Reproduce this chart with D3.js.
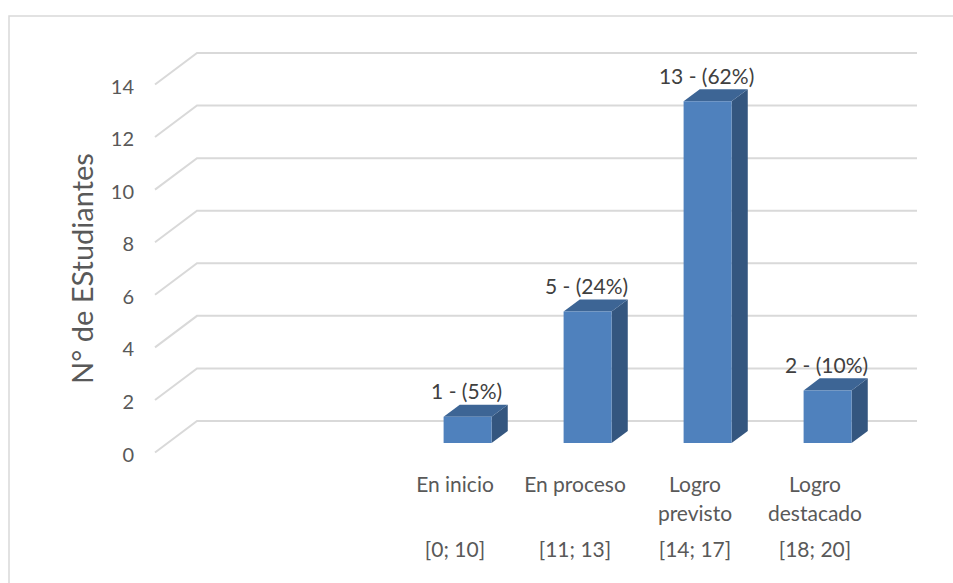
<!DOCTYPE html>
<html>
<head>
<meta charset="utf-8">
<script src="https://cdn.jsdelivr.net/npm/d3@7"></script>
<style>
  body { margin: 0; background: #fff; }
  svg { display: block; font-family: Lato, "Open Sans", sans-serif; }
</style>
</head>
<body>
<svg id="chart" width="953" height="583"></svg>
<script>
// data (first two category slots are empty in the original)
var categories = ["c0", "c1", "En inicio", "En proceso", "Logro previsto", "Logro destacado"];
var labelLines = [[], [], ["En inicio"], ["En proceso"], ["Logro", "previsto"], ["Logro", "destacado"]];
var ranges = ["", "", "[0; 10]", "[11; 13]", "[14; 17]", "[18; 20]"];
var values = [null, null, 1, 5, 13, 2];
var percents = [null, null, "5%", "24%", "62%", "10%"];
var yTicks = [0, 2, 4, 6, 8, 10, 12, 14];

var svg = d3.select("#chart");

// chart frame
svg.append("rect")
    .attr("x", 9).attr("y", 16)
    .attr("width", 1000).attr("height", 700)
    .attr("fill", "none")
    .attr("stroke", "#d9d9d9")
    .attr("stroke-width", 1.5);

// STEP 1: scales + oblique depth
var x = d3.scaleBand()
    .domain(categories)
    .range([155, 875])
    .paddingInner(0.6)
    .paddingOuter(0.3);

var y = d3.scaleLinear()
    .domain([0, 14])
    .range([452.5, 84.5]);

var depthX = 42, depthY = -31.5;   // full floor depth
var barFront = 0.30, barBack = 0.685;

function proj(px, v, d) {
    return [px + depthX * d, y(v) + depthY * d];
}

// gridlines (side wall diagonal + back wall)
var grid = svg.append("g").attr("class", "grid");
yTicks.forEach(function(t) {
    var a = proj(x.range()[0], t, 0),
        b = proj(x.range()[0], t, 1),
        c = proj(x.range()[1], t, 1);
    grid.append("polyline")
        .attr("points", [a, b, c].map(p => p.join(",")).join(" "))
        .attr("fill", "none")
        .attr("stroke", "#d9d9d9")
        .attr("stroke-width", 2);
});

// y tick labels
svg.append("g")
    .selectAll("text")
    .data(yTicks)
    .enter()
    .append("text")
        .attr("x", 134)
        .attr("y", d => y(d) + 2)
        .attr("dy", "0.35em")
        .attr("text-anchor", "end")
        .attr("fill", "#595959")
        .attr("font-size", 20)
        .text(d => d);

// y title
svg.append("text")
    .attr("transform", "translate(83,268.5) rotate(-90)")
    .attr("text-anchor", "middle")
    .attr("dy", "0.35em")
    .attr("fill", "#595959")
    .attr("font-size", 29)
    .text("N° de EStudiantes");

// STEP 2: bars
var barData = categories.map((c, i) => ({cat: c, value: values[i], pct: percents[i]}))
    .filter(d => d.value != null);

var bars = svg.append("g").attr("class", "bars")
    .selectAll("g.bar")
    .data(barData)
    .enter()
    .append("g")
        .attr("class", "bar");

function pts(arr) { return arr.map(p => p.join(",")).join(" "); }

// side face
bars.append("polygon")
    .attr("fill", "#34567f")
    .attr("points", d => {
        var x1 = x(d.cat) + x.bandwidth();
        return pts([proj(x1, 0, barFront), proj(x1, 0, barBack),
                    proj(x1, d.value, barBack), proj(x1, d.value, barFront)]);
    });

// top face
bars.append("polygon")
    .attr("fill", "#3d6595")
    .attr("points", d => {
        var x0 = x(d.cat), x1 = x0 + x.bandwidth();
        return pts([proj(x0, d.value, barFront), proj(x0, d.value, barBack),
                    proj(x1, d.value, barBack), proj(x1, d.value, barFront)]);
    });

// front face
bars.append("polygon")
    .attr("fill", "#4f81bd")
    .attr("points", d => {
        var x0 = x(d.cat), x1 = x0 + x.bandwidth();
        return pts([proj(x0, 0, barFront), proj(x1, 0, barFront),
                    proj(x1, d.value, barFront), proj(x0, d.value, barFront)]);
    });

// data labels
bars.append("text")
    .attr("x", d => proj(x(d.cat) + x.bandwidth() / 2, d.value, barFront)[0] - 1)
    .attr("y", d => proj(0, d.value, barBack)[1] - 13)
    .attr("dy", "0.35em")
    .attr("text-anchor", "middle")
    .attr("fill", "#404040")
    .attr("font-size", 21)
    .text(d => d.value + " - (" + d.pct + ")");

// STEP 3: category labels (two levels)
var catG = svg.append("g").attr("class", "cats");
categories.forEach(function(c, i) {
    var cx = x(c) + x.bandwidth() / 2;
    var t = catG.append("text")
        .attr("text-anchor", "middle")
        .attr("fill", "#595959")
        .attr("font-size", 21);
    labelLines[i].forEach(function(line, k) {
        t.append("tspan")
            .attr("x", cx)
            .attr("y", 485 + k * 28.5)
            .attr("dy", "0.35em")
            .text(line);
    });
    catG.append("text")
        .attr("x", cx)
        .attr("y", 550)
        .attr("dy", "0.35em")
        .attr("text-anchor", "middle")
        .attr("fill", "#595959")
        .attr("font-size", 21)
        .text(ranges[i]);
});
</script>
</body>
</html>
